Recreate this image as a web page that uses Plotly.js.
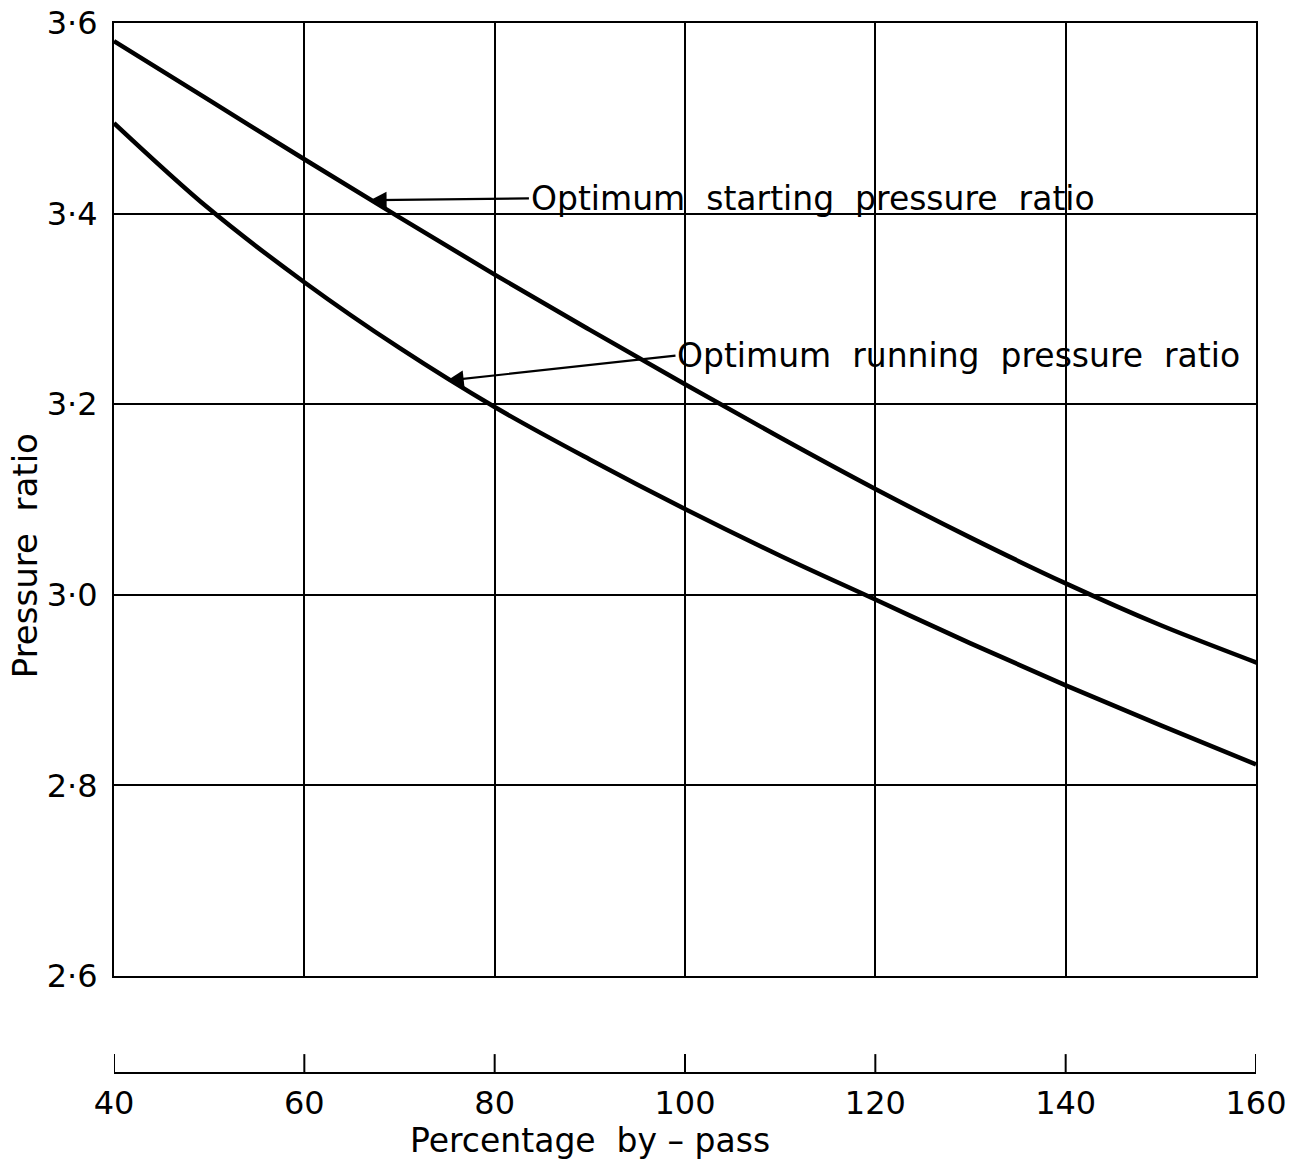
<!DOCTYPE html>
<html>
<head>
<meta charset="utf-8">
<script src="https://cdn.plot.ly/plotly-3.0.1.min.js"></script>
<style>
html, body { margin: 0; padding: 0; background: #fff; }
#chart { width: 1295px; height: 1168px; }
</style>
</head>
<body>
<div id="chart"></div>
<script>
// Data
const bypassStart = [40, 50, 60, 70, 80, 90, 100, 110, 120, 130, 140, 150, 160, 161];
const startingRatio = [3.581, 3.519, 3.457, 3.396, 3.336, 3.278, 3.221, 3.165, 3.111, 3.060, 3.012, 2.968, 2.929, 2.925];
const bypassRun = [40, 50, 60, 70, 80, 90, 100, 110, 120, 130, 140, 150, 160];
const runningRatio = [3.495, 3.405, 3.328, 3.259, 3.197, 3.142, 3.090, 3.041, 2.995, 2.949, 2.905, 2.863, 2.822];

const xTickVals = [40, 60, 80, 100, 120, 140, 160];
const xTickText = ['40', '60', '80', '100', '120', '140', '160'];
const yTickVals = [2.6, 2.8, 3.0, 3.2, 3.4, 3.6];
const yTickText = ['2·6', '2·8', '3·0', '3·2', '3·4', '3·6'];

const labelStarting = 'Optimum  starting  pressure  ratio';
const labelRunning = 'Optimum  running  pressure  ratio';
const xTitle = 'Percentage  by – pass';
const yTitle = 'Pressure  ratio';

const FONT = 'DejaVu Sans, sans-serif';

const traces = [
  {
    x: bypassStart, y: startingRatio, type: 'scatter', mode: 'lines',
    xaxis: 'x', yaxis: 'y',
    line: { color: '#000', width: 4.5, shape: 'spline', smoothing: 1 },
    name: 'Optimum starting pressure ratio', hoverinfo: 'skip'
  },
  {
    x: bypassRun, y: runningRatio, type: 'scatter', mode: 'lines',
    xaxis: 'x2', yaxis: 'y',
    line: { color: '#000', width: 4.5, shape: 'spline', smoothing: 1 },
    name: 'Optimum running pressure ratio', hoverinfo: 'skip'
  }
];

// tick marks of the detached lower axis (end ticks are dropped by Plotly, so draw them all as shapes)
const tickShapes = xTickVals.map(v => ({
  type: 'line', xref: 'x2', yref: 'paper',
  x0: v, x1: v, y0: 0, y1: 0.018,
  line: { color: '#000', width: 2 }
}));

const layout = {
  width: 1295, height: 1168,
  margin: { l: 114, r: 39, t: 23, b: 95 },
  paper_bgcolor: '#fff', plot_bgcolor: '#fff',
  showlegend: false,
  font: { family: FONT, color: '#000', size: 32 },
  xaxis: {
    range: [40, 160], tickvals: xTickVals, showticklabels: false, ticks: '',
    showgrid: true, gridcolor: '#000', gridwidth: 2,
    showline: true, mirror: true, linecolor: '#000', linewidth: 2,
    zeroline: false, fixedrange: true
  },
  xaxis2: {
    overlaying: 'x', anchor: 'free', position: 0, side: 'bottom',
    range: [40, 160], tickvals: xTickVals, ticktext: xTickText,
    ticks: '',
    showline: true, linecolor: '#000', linewidth: 2,
    showgrid: false, zeroline: false,
    tickfont: { family: FONT, size: 32, color: '#000' }, ticklabelstandoff: 2,
    fixedrange: true
  },
  yaxis: {
    domain: [0.0924, 1],
    range: [2.6, 3.6], tickvals: yTickVals, ticktext: yTickText, ticks: '',
    showgrid: true, gridcolor: '#000', gridwidth: 2,
    showline: true, mirror: true, linecolor: '#000', linewidth: 2,
    zeroline: false, fixedrange: true,
    tickfont: { family: FONT, size: 32, color: '#000' }, ticklabelstandoff: 8
  },
  shapes: tickShapes,
  annotations: [
    {
      x: 66.7, y: 3.414, xref: 'x', yref: 'y',
      ax: 83.6, ay: 3.416, axref: 'x', ayref: 'y',
      text: labelStarting, showarrow: true, xanchor: 'left', yanchor: 'middle',
      arrowhead: 2, arrowsize: 1.5, arrowwidth: 2.2, arrowcolor: '#000', standoff: 2,
      font: { family: FONT, size: 33, color: '#000' }
    },
    {
      x: 74.8, y: 3.2245, xref: 'x', yref: 'y',
      ax: 99.0, ay: 3.251, axref: 'x', ayref: 'y',
      text: labelRunning, showarrow: true, xanchor: 'left', yanchor: 'middle',
      arrowhead: 2, arrowsize: 1.5, arrowwidth: 2.2, arrowcolor: '#000', standoff: 2,
      font: { family: FONT, size: 33, color: '#000' }
    },
    {
      x: 0.417, y: -0.064, xref: 'paper', yref: 'paper',
      text: xTitle, showarrow: false, xanchor: 'center', yanchor: 'middle',
      font: { family: FONT, size: 33, color: '#000' }
    },
    {
      x: -0.078, y: 0.493, xref: 'paper', yref: 'paper',
      text: yTitle, showarrow: false, textangle: -90, xanchor: 'center', yanchor: 'middle',
      font: { family: FONT, size: 34, color: '#000' }
    }
  ]
};

Plotly.newPlot('chart', traces, layout, { staticPlot: true, displayModeBar: false });
</script>
</body>
</html>
